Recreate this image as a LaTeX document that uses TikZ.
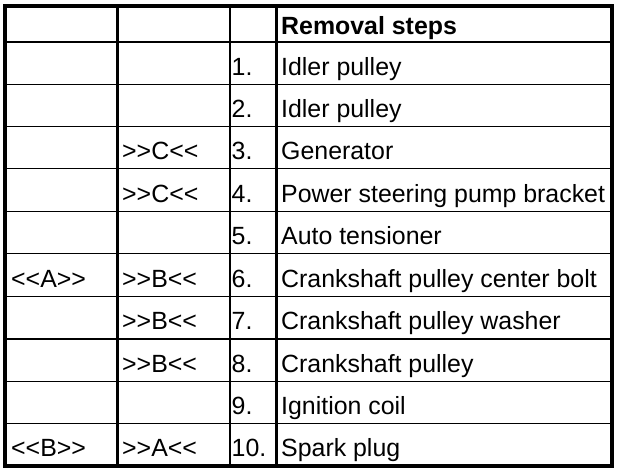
\documentclass[tikz,border=0pt]{standalone}
\usepackage{fontspec}
\setmainfont{Liberation Sans}
\tikzset{
  cell/.style={anchor=base west, inner sep=0pt, font=\fontsize{24.9}{28}\selectfont},
  head/.style={cell, font=\fontsize{24.9}{28}\selectfont\bfseries},
  frame/.style={line width=4pt},
  vline/.style={line width=2.6pt},
  hline/.style={line width=1.5pt},
  headline/.style={line width=2.5pt}
}
\begin{document}
\begin{tikzpicture}[x=1pt,y=-1pt]
\useasboundingbox (0,0) rectangle (624,472);
% inner vertical lines
\draw[vline] (117.3,6) -- (117.3,466);
\draw[vline] (230,6) -- (230,466);
\draw[vline] (276.5,6) -- (276.5,466);
% horizontal lines
\draw[headline] (5,42) -- (612,42);
\foreach \y in {84.5,126.5,168.5,211.5,253.5,296.5,339,381.5,423.5}
  \draw[hline] (5,\y) -- (612,\y);
% outer frame
\draw[frame] (5,6) rectangle (612,466);
% header
\node[head] (h4) at (281,34) {Removal steps};
% rows
\foreach \n/\b/\a/\bb/\t in {
  1/75/{}/{}/Idler pulley,
  2/117/{}/{}/Idler pulley,
  3/159/{}/{>{}>C<{}<}/Generator,
  4/202/{}/{>{}>C<{}<}/Power steering pump bracket,
  5/244/{}/{}/Auto tensioner,
  6/287/{<{}<A>{}>}/{>{}>B<{}<}/Crankshaft pulley center bolt,
  7/329.5/{}/{>{}>B<{}<}/Crankshaft pulley washer,
  8/372/{}/{>{}>B<{}<}/Crankshaft pulley,
  9/414/{}/{}/Ignition coil,
  10/456.5/{<{}<B>{}>}/{>{}>A<{}<}/Spark plug}
{
  \node[cell] (r\n c1) at (11,\b) {\a};
  \node[cell] (r\n c2) at (122,\b) {\bb};
  \node[cell] (r\n c3) at (231.5,\b) {\n.};
  \node[cell] (r\n c4) at (281,\b) {\t};
}
\end{tikzpicture}
\end{document}
